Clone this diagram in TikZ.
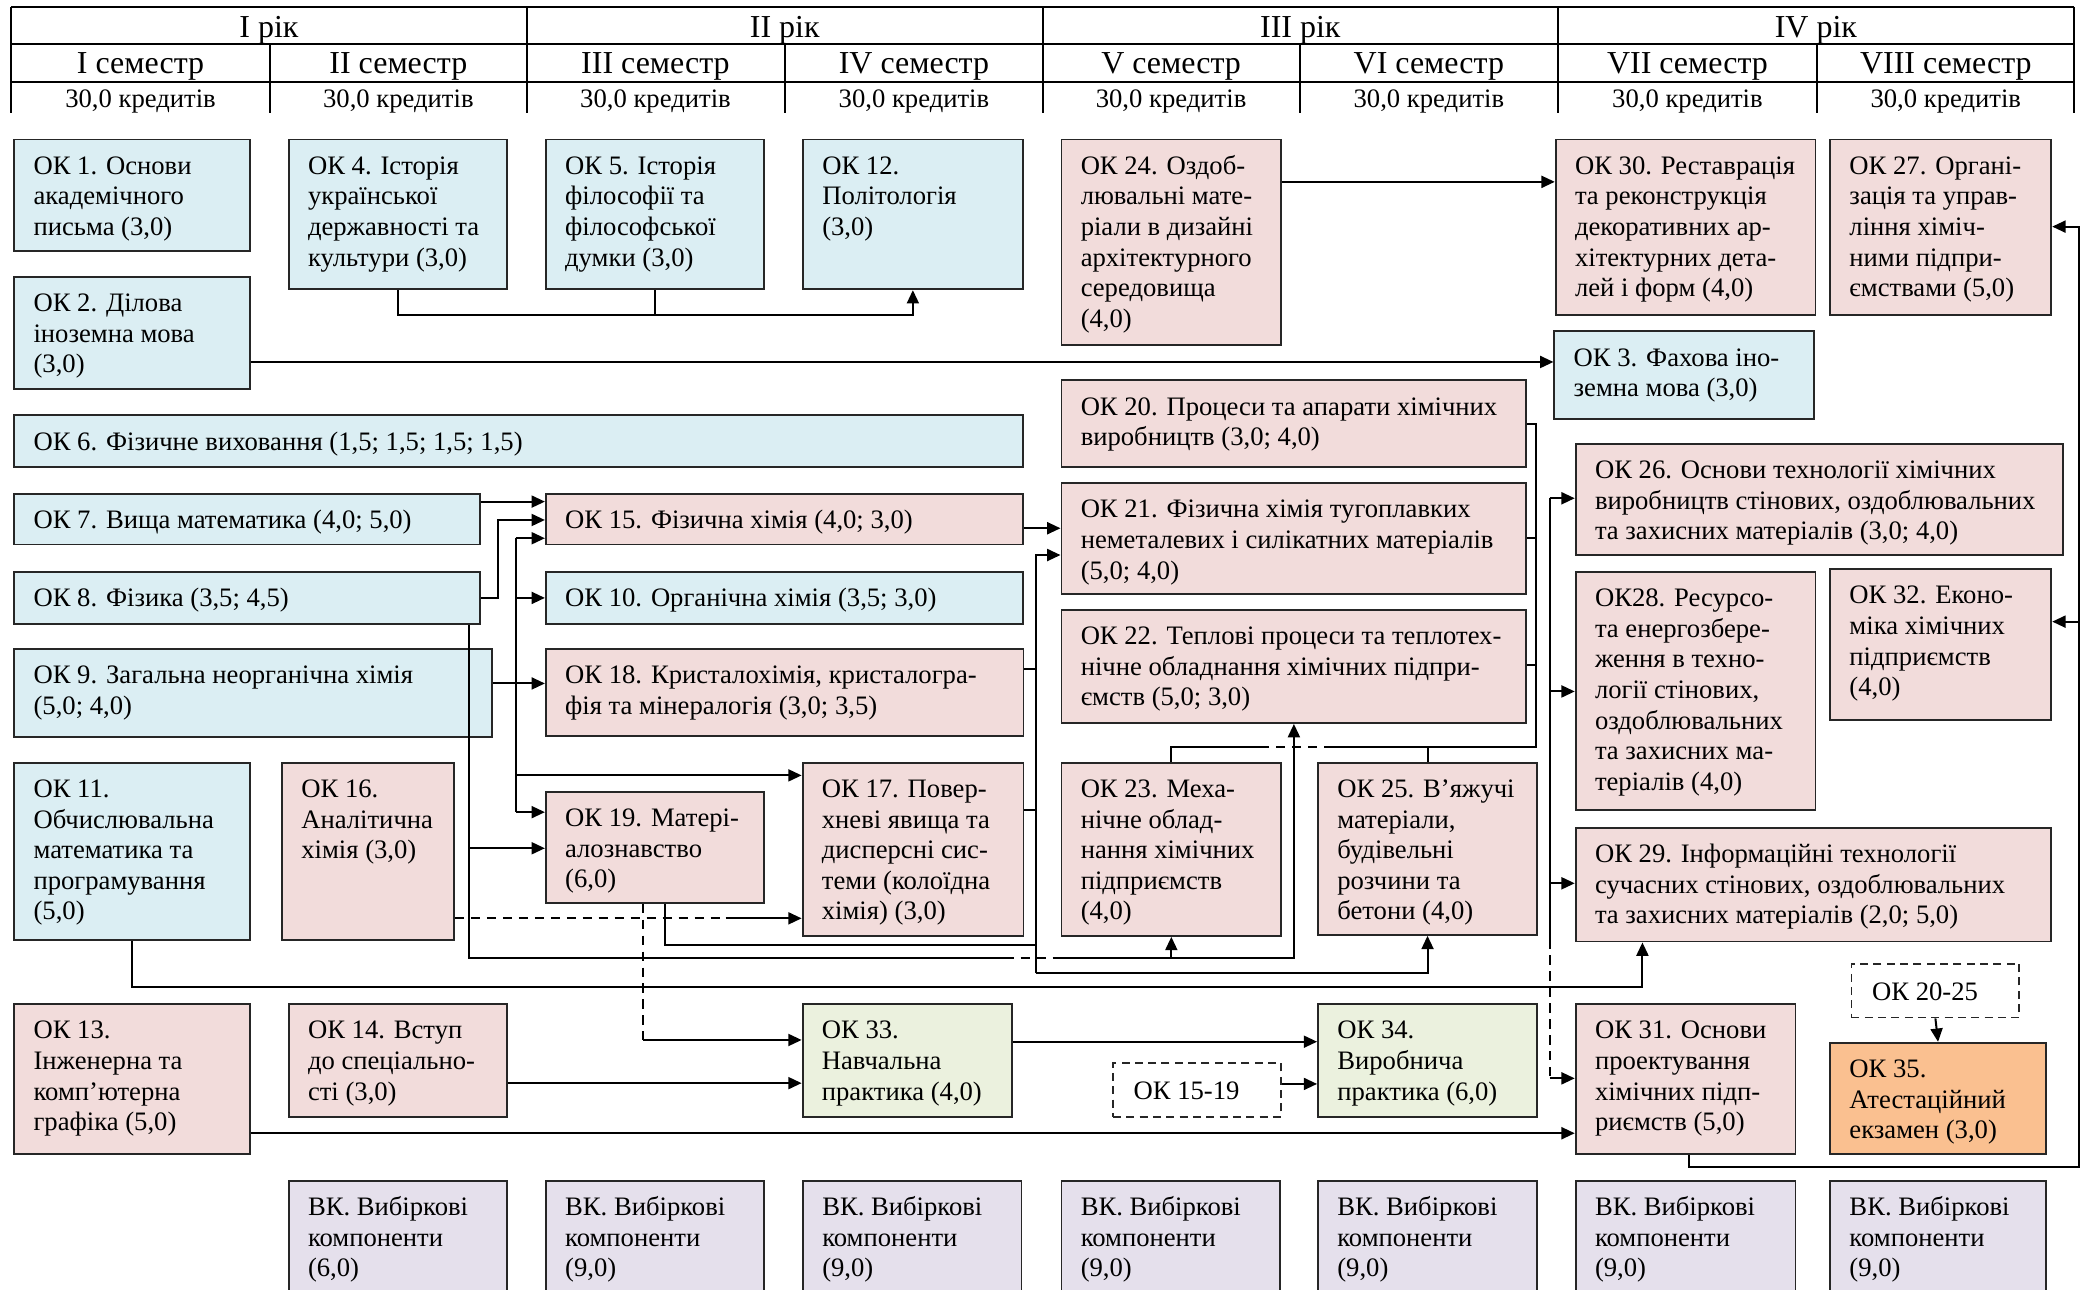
\documentclass[tikz,border=0pt]{standalone}
\usepackage{fontspec}
\setmainfont{Liberation Serif}
\usetikzlibrary{arrows.meta}
\definecolor{cblue}{HTML}{DBEEF3}
\definecolor{cpink}{HTML}{F2DCDB}
\definecolor{cgreen}{HTML}{EBF1DE}
\definecolor{cviolet}{HTML}{E5E0EC}
\definecolor{corange}{HTML}{FAC090}
\tikzset{
  box/.style={draw=black!85, line width=1.4pt, rectangle, inner sep=0pt, anchor=north west},
  btext/.style={anchor=north west, inner sep=0pt, align=left, font=\fontsize{20}{23}\selectfont},
  gbox/.style={draw=black!85, line width=1.4pt, dash pattern=on 6pt off 4pt, fill=white, rectangle, inner sep=0pt, anchor=north west},
  gtext/.style={anchor=west, inner sep=0pt, font=\fontsize{20}{23}\selectfont},
  conn/.style={line width=1.5pt, black},
  arr/.style={conn, -{Triangle[length=10pt,width=9pt]}},
  dsh/.style={dash pattern=on 7pt off 5pt},
  hline/.style={line width=1.5pt, black},
  hyear/.style={font=\fontsize{24}{28}\selectfont, inner sep=0pt},
  hcred/.style={font=\fontsize{20}{23}\selectfont, inner sep=0pt},
}
\newcommand\okbox[7]{%
  \node[box, fill=#2, minimum width={(#5-#3)*1pt}, minimum height={(#6-#4)*1pt}] (#1) at (#3,#4) {};
  \node[btext] (#1t) at ([shift={(15,10.5)}]#1.north west) {\strut#7};
}
\begin{document}
\begin{tikzpicture}[x=1pt,y=-1pt]
\useasboundingbox (0,0) rectangle (1568,968);
\clip (0,0) rectangle (1568,968);
% ---------- header table
\draw[hline] (8.4,5) -- (1557,5);
\draw[hline] (8.4,33.3) -- (1557,33.3);
\draw[hline] (8.4,61.8) -- (1557,61.8);
\foreach \x in {8.4,395.4,782.7,1169.3,1557} \draw[hline] (\x,5) -- (\x,85);
\foreach \x in {202.7,589.2,975.8,1364} \draw[hline] (\x,33.3) -- (\x,85);
\node[hyear] (yr1) at (201.9,22.5) {I рік};
\node[hyear] (yr2) at (589,22.5) {II рік};
\node[hyear] (yr3) at (976,22.5) {III рік};
\node[hyear] (yr4) at (1363,22.5) {IV рік};
\node[hyear] (s1) at (105.5,50) {I семестр};
\node[hyear] (s2) at (299,50) {II семестр};
\node[hyear] (s3) at (492,50) {III семестр};
\node[hyear] (s4) at (686,50) {IV семестр};
\node[hyear] (s5) at (879,50) {V семестр};
\node[hyear] (s6) at (1072.5,50) {VI семестр};
\node[hyear] (s7) at (1266.6,50) {VII семестр};
\node[hyear] (s8) at (1460.5,50) {VIII семестр};
\foreach \x/\n in {105.5/1,299/2,492/3,686/4,879/5,1072.5/6,1266.6/7,1460.5/8}
  \node[hcred] (c\n) at (\x,76.5) {30,0 кредитів};
% ---------- boxes
\okbox{ok1}{cblue}{10}{104}{187}{187.6}{ОК 1. Основи\\академічного\\письма (3,0)}
\okbox{ok4}{cblue}{216}{104}{380}{216.4}{ОК 4. Історія\\української\\державності та\\культури (3,0)}
\okbox{ok5}{cblue}{409}{104}{573}{216.4}{ОК 5. Історія\\філософії та\\філософської\\думки (3,0)}
\okbox{ok12}{cblue}{602}{104}{767}{216.4}{ОК 12.\\Політологія\\(3,0)}
\okbox{ok24}{cpink}{796}{104}{961}{258}{ОК 24. Оздоб-\\лювальні мате-\\ріали в дизайні\\архітектурного\\середовища\\(4,0)}
\okbox{ok30}{cpink}{1167}{104}{1362}{236}{ОК 30. Реставрація\\та реконструкція\\декоративних ар-\\хітектурних дета-\\лей і форм (4,0)}
\okbox{ok27}{cpink}{1373}{104}{1539}{236}{ОК 27. Органі-\\зація та управ-\\ління хіміч-\\ними підпри-\\ємствами (5,0)}
\okbox{ok2}{cblue}{10}{207}{187}{291}{ОК 2. Ділова\\іноземна мова\\(3,0)}
\okbox{ok3}{cblue}{1166}{248}{1361}{313.7}{ОК 3. Фахова іно-\\земна мова (3,0)}
\okbox{ok6}{cblue}{10}{311}{767}{350}{ОК 6. Фізичне виховання (1,5; 1,5; 1,5; 1,5)}
\okbox{ok20}{cpink}{796}{284.7}{1145}{349.8}{ОК 20. Процеси та апарати хімічних\\виробництв (3,0; 4,0)}
\okbox{ok7}{cblue}{10}{370}{359.5}{408}{ОК 7. Вища математика (4,0; 5,0)}
\okbox{ok15}{cpink}{409}{370}{767}{408}{ОК 15. Фізична хімія (4,0; 3,0)}
\okbox{ok21}{cpink}{796}{362}{1145}{445}{ОК 21. Фізична хімія тугоплавких\\неметалевих і силікатних матеріалів\\(5,0; 4,0)}
\okbox{ok26}{cpink}{1182}{332.5}{1548}{416}{ОК 26. Основи технології хімічних\\виробництв стінових, оздоблювальних\\та захисних матеріалів (3,0; 4,0)}
\okbox{ok8}{cblue}{10}{428.6}{359.5}{467.6}{ОК 8. Фізика (3,5; 4,5)}
\okbox{ok10}{cblue}{409}{428.6}{767}{467.6}{ОК 10. Органічна хімія (3,5; 3,0)}
\okbox{ok22}{cpink}{796}{457}{1145}{542}{ОК 22. Теплові процеси та теплотех-\\нічне обладнання хімічних підпри-\\ємств (5,0; 3,0)}
\okbox{ok9}{cblue}{10}{486.6}{368.6}{552.5}{ОК 9. Загальна неорганічна хімія\\(5,0; 4,0)}
\okbox{ok18}{cpink}{409}{486.6}{767.5}{552}{ОК 18. Кристалохімія, кристалогра-\\фія та мінералогія (3,0; 3,5)}
\okbox{ok28}{cpink}{1182}{428.4}{1362}{607}{ОК28. Ресурсо-\\та енергозбере-\\ження в техно-\\логії стінових,\\оздоблювальних\\та захисних ма-\\теріалів (4,0)}
\okbox{ok32}{cpink}{1373}{426.5}{1539}{540}{ОК 32. Еконо-\\міка хімічних\\підприємств\\(4,0)}
\okbox{ok11}{cblue}{10}{571.7}{187}{705}{ОК 11.\\Обчислювальна\\математика та\\програмування\\(5,0)}
\okbox{ok16}{cpink}{211}{571.7}{340}{705}{ОК 16.\\Аналітична\\хімія (3,0)}
\okbox{ok19}{cpink}{409}{593.6}{573}{676.8}{ОК 19. Матері-\\алознавство\\(6,0)}
\okbox{ok17}{cpink}{601.7}{571.7}{767.5}{701.8}{ОК 17. Повер-\\хневі явища та\\дисперсні сис-\\теми (колоїдна\\хімія) (3,0)}
\okbox{ok23}{cpink}{796}{571.7}{961}{701.8}{ОК 23. Меха-\\нічне облад-\\нання хімічних\\підприємств\\(4,0)}
\okbox{ok25}{cpink}{988.6}{571.7}{1153}{701}{ОК 25. В'яжучі\\матеріали,\\будівельні\\розчини та\\бетони (4,0)}
\okbox{ok29}{cpink}{1182}{620.6}{1539}{706}{ОК 29. Інформаційні технології\\сучасних стінових, оздоблювальних\\та захисних матеріалів (2,0; 5,0)}
\okbox{ok13}{cpink}{10}{753}{187}{865.6}{ОК 13.\\Інженерна та\\комп'ютерна\\графіка (5,0)}
\okbox{ok14}{cpink}{216}{753}{380}{837.4}{ОК 14. Вступ\\до спеціально-\\сті (3,0)}
\okbox{ok33}{cgreen}{601.7}{753}{759}{837.4}{ОК 33.\\Навчальна\\практика (4,0)}
\okbox{ok34}{cgreen}{988.6}{753}{1153}{837.4}{ОК 34.\\Виробнича\\практика (6,0)}
\okbox{ok31}{cpink}{1182}{753}{1347}{865.6}{ОК 31. Основи\\проектування\\хімічних підп-\\риємств (5,0)}
\okbox{ok35}{corange}{1373}{782}{1535}{865.6}{ОК 35.\\Атестаційний\\екзамен (3,0)}
\node[gbox, minimum width=126pt, minimum height=40.4pt] (g1519) at (834.7,797) {};
\node[gtext] (g1519t) at ([xshift=16pt,yshift=-1pt]g1519.west) {ОК 15-19};
\node[gbox, minimum width=126pt, minimum height=40.4pt] (g2025) at (1389,722.6) {};
\node[gtext] (g2025t) at ([xshift=16pt,yshift=-1pt]g2025.west) {ОК 20-25};
\okbox{vk1}{cviolet}{216}{885.7}{380}{1000}{ВК. Вибіркові\\компоненти\\(6,0)}
\okbox{vk2}{cviolet}{409}{885.7}{573}{1000}{ВК. Вибіркові\\компоненти\\(9,0)}
\okbox{vk3}{cviolet}{602}{885.7}{766}{1000}{ВК. Вибіркові\\компоненти\\(9,0)}
\okbox{vk4}{cviolet}{796}{885.7}{960}{1000}{ВК. Вибіркові\\компоненти\\(9,0)}
\okbox{vk5}{cviolet}{988.6}{885.7}{1153}{1000}{ВК. Вибіркові\\компоненти\\(9,0)}
\okbox{vk6}{cviolet}{1182}{885.7}{1347}{1000}{ВК. Вибіркові\\компоненти\\(9,0)}
\okbox{vk7}{cviolet}{1373}{885.7}{1535}{1000}{ВК. Вибіркові\\компоненти\\(9,0)}
% ---------- connectors
% OK4, OK5 -> OK12
\draw[arr] (ok4.south) -- ++(0,19) -| (ok12.south);
\draw[conn] (ok5.south) -- ++(0,19);
% OK24 -> OK30
\draw[arr] (ok24.east |- 0,136.5) -- (ok30.west |- 0,136.5);
% OK2 -> OK3
\draw[arr] (ok2.east |- 0,271.7) -- (ok3.west |- 0,271.7);
% OK7 -> OK15
\draw[arr] (ok7.east |- 0,376.5) -- (ok15.west |- 0,376.5);
% OK8 -> OK15
\coordinate (j8) at (373.6,390.3);
\draw[arr] (ok8.east) -| (j8) -- (ok15.west |- j8);
% OK9 bus
\coordinate (b9t) at (387,404);
\coordinate (b9b) at (387,609.6);
\draw[arr] (ok9.east |- 0,513) -- (ok18.west |- 0,513);
\draw[conn] (b9t) -- (b9b);
\draw[arr] (b9t) -- (ok15.west |- b9t);
\draw[arr] (387,0 |- ok10.west) -- (ok10.west);
\draw[arr] (387,582) -- (ok17.west |- 0,582);
\draw[arr] (b9b) -- (ok19.west |- b9b);
% OK8 -> OK19, OK22, OK23
\coordinate (p8) at (351.8,719.3);
\draw[conn] (351.8,0 |- ok8.south) -- (p8) -- (754,719.3);
\draw[conn,dsh] (754,719.3) -- (796,719.3);
\draw[arr] (796,719.3) -| (ok22.south);
\draw[arr] (351.8,636.7) -- (ok19.west |- 0,636.7);
\draw[arr] (ok23.south |- 0,719.3) -- (ok23.south);
% OK19, OK18, OK17 -> OK21 ; -> OK25
\coordinate (b21t) at (777.6,416.6);
\coordinate (b21b) at (777.6,730.6);
\draw[conn] (499.3,0 |- ok19.south) -- (499.3,709.3) -- (777.6,709.3);
\draw[arr] (b21b) -- (b21t) -- (ok21.west |- b21t);
\draw[conn] (ok18.east |- 0,502.4) -- (777.6,502.4);
\draw[conn] (ok17.east |- 0,608) -- (777.6,608);
\draw[arr] (b21b) -| (ok25.south);
% OK15 -> OK21
\draw[arr] (ok15.east |- 0,396.5) -- (ok21.west |- 0,396.5);
% OK16 -> OK17
\draw[conn,dsh] (ok16.east |- 0,689.3) -- (544.7,689.3);
\draw[arr] (544.7,689.3) -- (ok17.west |- 0,689.3);
% OK19 -> OK33
\draw[conn,dsh] (482.6,0 |- ok19.south) -- (482.6,780.6);
\draw[arr] (482.6,780.6) -- (ok33.west |- 0,780.6);
% OK14 -> OK33
\draw[arr] (ok14.east |- 0,813) -- (ok33.west |- 0,813);
% OK33 -> OK34
\draw[arr] (ok33.east |- 0,781.9) -- (ok34.west |- 0,781.9);
% OK15-19 -> OK34
\draw[arr] (g1519.east |- 0,813.6) -- (ok34.west |- 0,813.6);
% OK13 -> OK31
\draw[arr] (ok13.east |- 0,850.6) -- (ok31.west |- 0,850.6);
% OK11 -> OK29
\draw[arr] (ok11.south) -- (ok11.south |- 0,740.6) -| (1232.8,0 |- ok29.south);
% OK20-22 bus -> OK23, OK25
\coordinate (b20) at (1152.9,560.4);
\draw[conn] (ok20.east |- 0,318.5) -- (1152.9,318.5) -- (b20) -- (1000.5,560.4);
\draw[conn,dsh] (1000.5,560.4) -- (946.6,560.4);
\draw[conn] (946.6,560.4) -| (ok23.north);
\draw[conn] (ok21.east |- 0,404) -- (1152.9,404);
\draw[conn] (ok22.east |- 0,499) -- (1152.9,499);
\draw[conn] (ok25.north |- b20) -- (ok25.north);
% bus -> OK26, OK28, OK29, OK31
\coordinate (b26t) at (1163.2,374);
\draw[conn] (b26t) -- (1163.2,705);
\draw[conn,dsh] (1163.2,705) -- (1163.2,809.4);
\draw[arr] (1163.2,809.4) -- (ok31.west |- 0,809.4);
\draw[arr] (b26t) -- (ok26.west |- b26t);
\draw[arr] (1163.2,519) -- (ok28.west |- 0,519);
\draw[arr] (1163.2,663) -- (ok29.west |- 0,663);
% OK31 -> OK27, OK32
\coordinate (r31) at (1560.5,875.7);
\draw[arr] (1267.7,0 |- ok31.south) -- (1267.7,875.7) -- (r31) -- (1560.5,170.1) -- (ok27.east |- 0,170.1);
\draw[arr] (1560.5,466.6) -- (ok32.east |- 0,466.6);
% OK20-25 -> OK35
\draw[arr] (g2025.south) -- (ok35.north);
\end{tikzpicture}
\end{document}
